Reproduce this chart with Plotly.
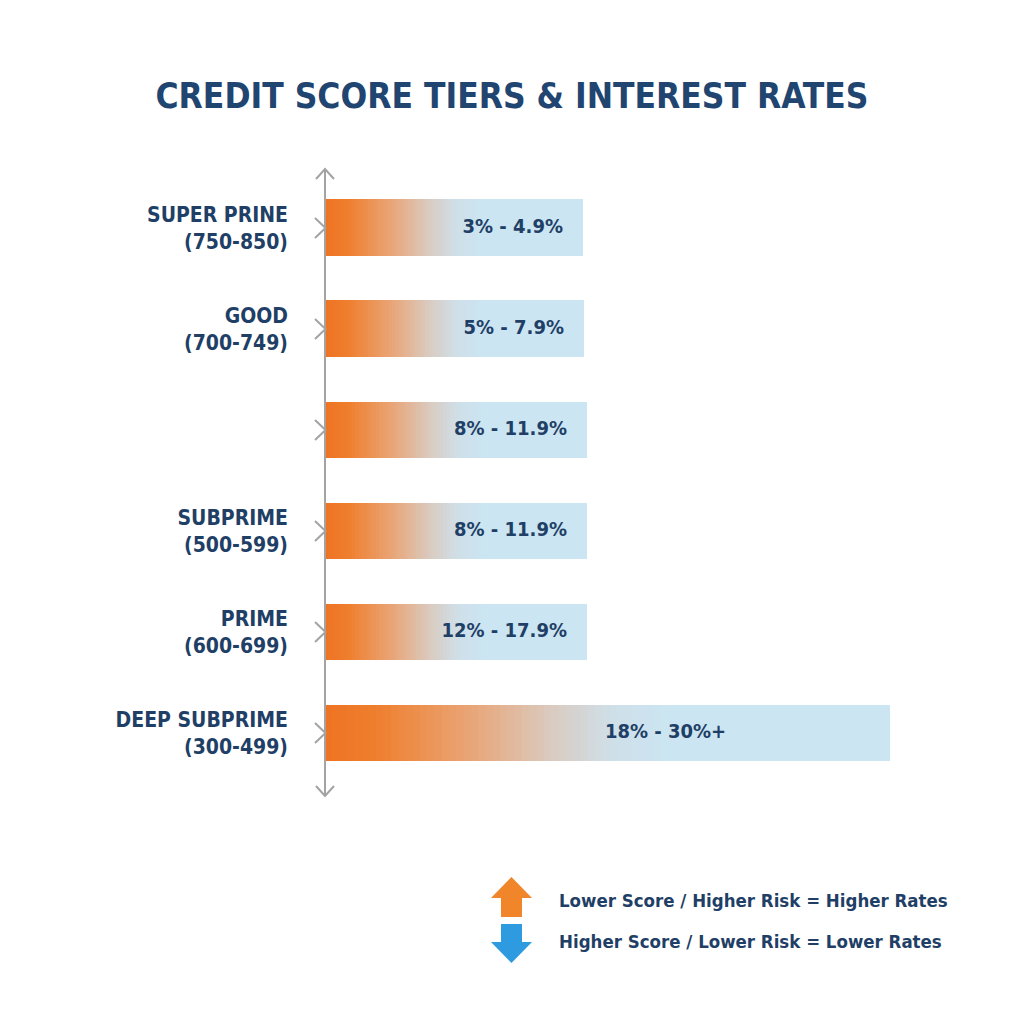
import plotly.graph_objects as go

# ---------------- data ----------------
tier_names = ["SUPER PRINE", "GOOD", "", "SUBPRIME", "PRIME", "DEEP SUBPRIME"]
score_ranges = ["(750-850)", "(700-749)", "", "(500-599)", "(600-699)", "(300-499)"]
rate_labels = ["3% - 4.9%", "5% - 7.9%", "8% - 11.9%", "8% - 11.9%", "12% - 17.9%", "18% - 30%+"]
bar_length = [258, 259, 262, 262, 262, 565]   # relative bar extent as drawn
legend_up = "Lower Score / Higher Risk = Higher Rates"
legend_down = "Higher Score / Lower Risk = Lower Rates"
title = "CREDIT SCORE TIERS & INTEREST RATES"

# ---------------- style ----------------
W = H = 1024
ML, MR, MT, MB = 325, 24, 170, 229
PW, PH = W - ML - MR, H - MT - MB
NAVY = "#1F3F66"
TITLE_C = "#1F4570"
GRAY = "#A3A3A3"
FONT = "DejaVu Sans Condensed, Liberation Sans Narrow, Roboto, sans-serif"

n = len(tier_names)
ypos = list(range(n - 1, -1, -1))  # top to bottom
y_range = [-0.614, n - 1 + 0.574]
x_range = [0, PW]
PX_PER_Y = PH / (y_range[1] - y_range[0])

stops = [(0.0, (238, 116, 36)), (0.08, (239, 126, 44)), (0.25, (233, 165, 119)),
         (0.40, (217, 204, 194)), (0.50, (207, 223, 232)), (0.60, (203, 229, 242)),
         (1.0, (204, 230, 243))]


def grad(f):
    for (a, ca), (b, cb) in zip(stops[:-1], stops[1:]):
        if a <= f <= b:
            t = (f - a) / (b - a) if b > a else 0
            c = [round(ca[i] + (cb[i] - ca[i]) * t) for i in range(3)]
            return "rgb(%d,%d,%d)" % tuple(c)
    return "rgb(204,230,243)"


def px2paper(x, y):
    return (x - ML) / PW, (H - MB - y) / PH


# gradient bar segments (each drawn to bar end; later ones cover earlier)
NSEG = 48
seg_y, seg_base, seg_len, seg_col = [], [], [], []
for yv, L in zip(ypos, bar_length):
    for k in range(NSEG + 1):
        f0 = 0.62 * k / NSEG
        seg_y.append(yv)
        seg_base.append(L * f0)
        seg_len.append(L * (1 - f0))
        seg_col.append(grad(f0))

fig = go.Figure()
fig.add_trace(go.Bar(
    y=seg_y, x=seg_len, base=seg_base, orientation="h", width=0.564,
    marker=dict(color=seg_col, line=dict(width=0)), hoverinfo="skip", showlegend=False,
))

label_end = [L - 20 if L < 400 else L * 0.71 for L in bar_length]
fig.add_trace(go.Scatter(
    x=label_end, y=ypos, mode="text", text=rate_labels, textposition="middle left",
    textfont=dict(family=FONT, size=20, color=NAVY, weight="bold"),
    hoverinfo="skip", showlegend=False,
))

ticktext = [f"{a}<br>{b}" if a else "" for a, b in zip(tier_names, score_ranges)]

shapes = []
# chevrons on the axis at each tier
cx0 = (315 - ML) / PW
cx1 = (325.5 - ML) / PW
for yv in ypos:
    dy = 10 / PX_PER_Y
    shapes.append(dict(type="path", xref="paper", yref="y",
                       path="M %f,%f L %f,%f L %f,%f" % (cx0, yv + dy, cx1, yv, cx0, yv - dy),
                       line=dict(color=GRAY, width=2)))
# axis arrowheads
for ytip, d in [(169, 1), (796, -1)]:
    pts = [px2paper(316, ytip + 10 * d), px2paper(325, ytip), px2paper(334, ytip + 10 * d)]
    path = "M %f,%f L %f,%f L %f,%f" % (pts[0] + pts[1] + pts[2])
    shapes.append(dict(type="path", path=path, xref="paper", yref="paper",
                       line=dict(color=GRAY, width=2)))
# axis line extension to tips
a0 = px2paper(325, 169); a1 = px2paper(325, 796)
shapes.append(dict(type="line", xref="paper", yref="paper", x0=a0[0], y0=a0[1], x1=a1[0], y1=a1[1],
                   line=dict(color=GRAY, width=2)))


def poly(points, color):
    pp = [px2paper(x, y) for x, y in points]
    path = "M " + " L ".join("%f,%f" % p for p in pp) + " Z"
    return dict(type="path", path=path, xref="paper", yref="paper", fillcolor=color,
                line=dict(width=0))


# legend arrows
shapes.append(poly([(511.5, 877), (532, 898), (522, 898), (522, 917), (501, 917), (501, 898), (491, 898)], "#F0852A"))
shapes.append(poly([(501, 924), (522, 924), (522, 942), (532, 942), (511.5, 963), (491, 942), (501, 942)], "#2E9BE0"))

annotations = []
for txt, yy in [(legend_up, 900), (legend_down, 941)]:
    px, py = px2paper(557, yy)
    annotations.append(dict(x=px, y=py, xref="paper", yref="paper", text=txt, showarrow=False,
                            xanchor="left", yanchor="middle",
                            font=dict(family=FONT, size=18.5, color=NAVY, weight="bold")))

fig.update_layout(
    width=W, height=H, margin=dict(l=ML, r=MR, t=MT, b=MB),
    paper_bgcolor="white", plot_bgcolor="white",
    title=dict(text=title, x=0.5, xref="container", y=1 - 96 / H, yref="container",
               xanchor="center", yanchor="middle",
               font=dict(family=FONT, size=35, color=TITLE_C, weight="bold")),
    xaxis=dict(range=x_range, visible=False, fixedrange=True),
    yaxis=dict(range=y_range, tickvals=ypos, ticktext=ticktext, showline=False,
               showgrid=False, zeroline=False, ticks="", ticklabelstandoff=36,
               tickfont=dict(family=FONT, size=21, color=NAVY, weight="bold")),
    shapes=shapes, annotations=annotations, bargap=0, barmode="overlay",
)

fig.write_html("out.html")
